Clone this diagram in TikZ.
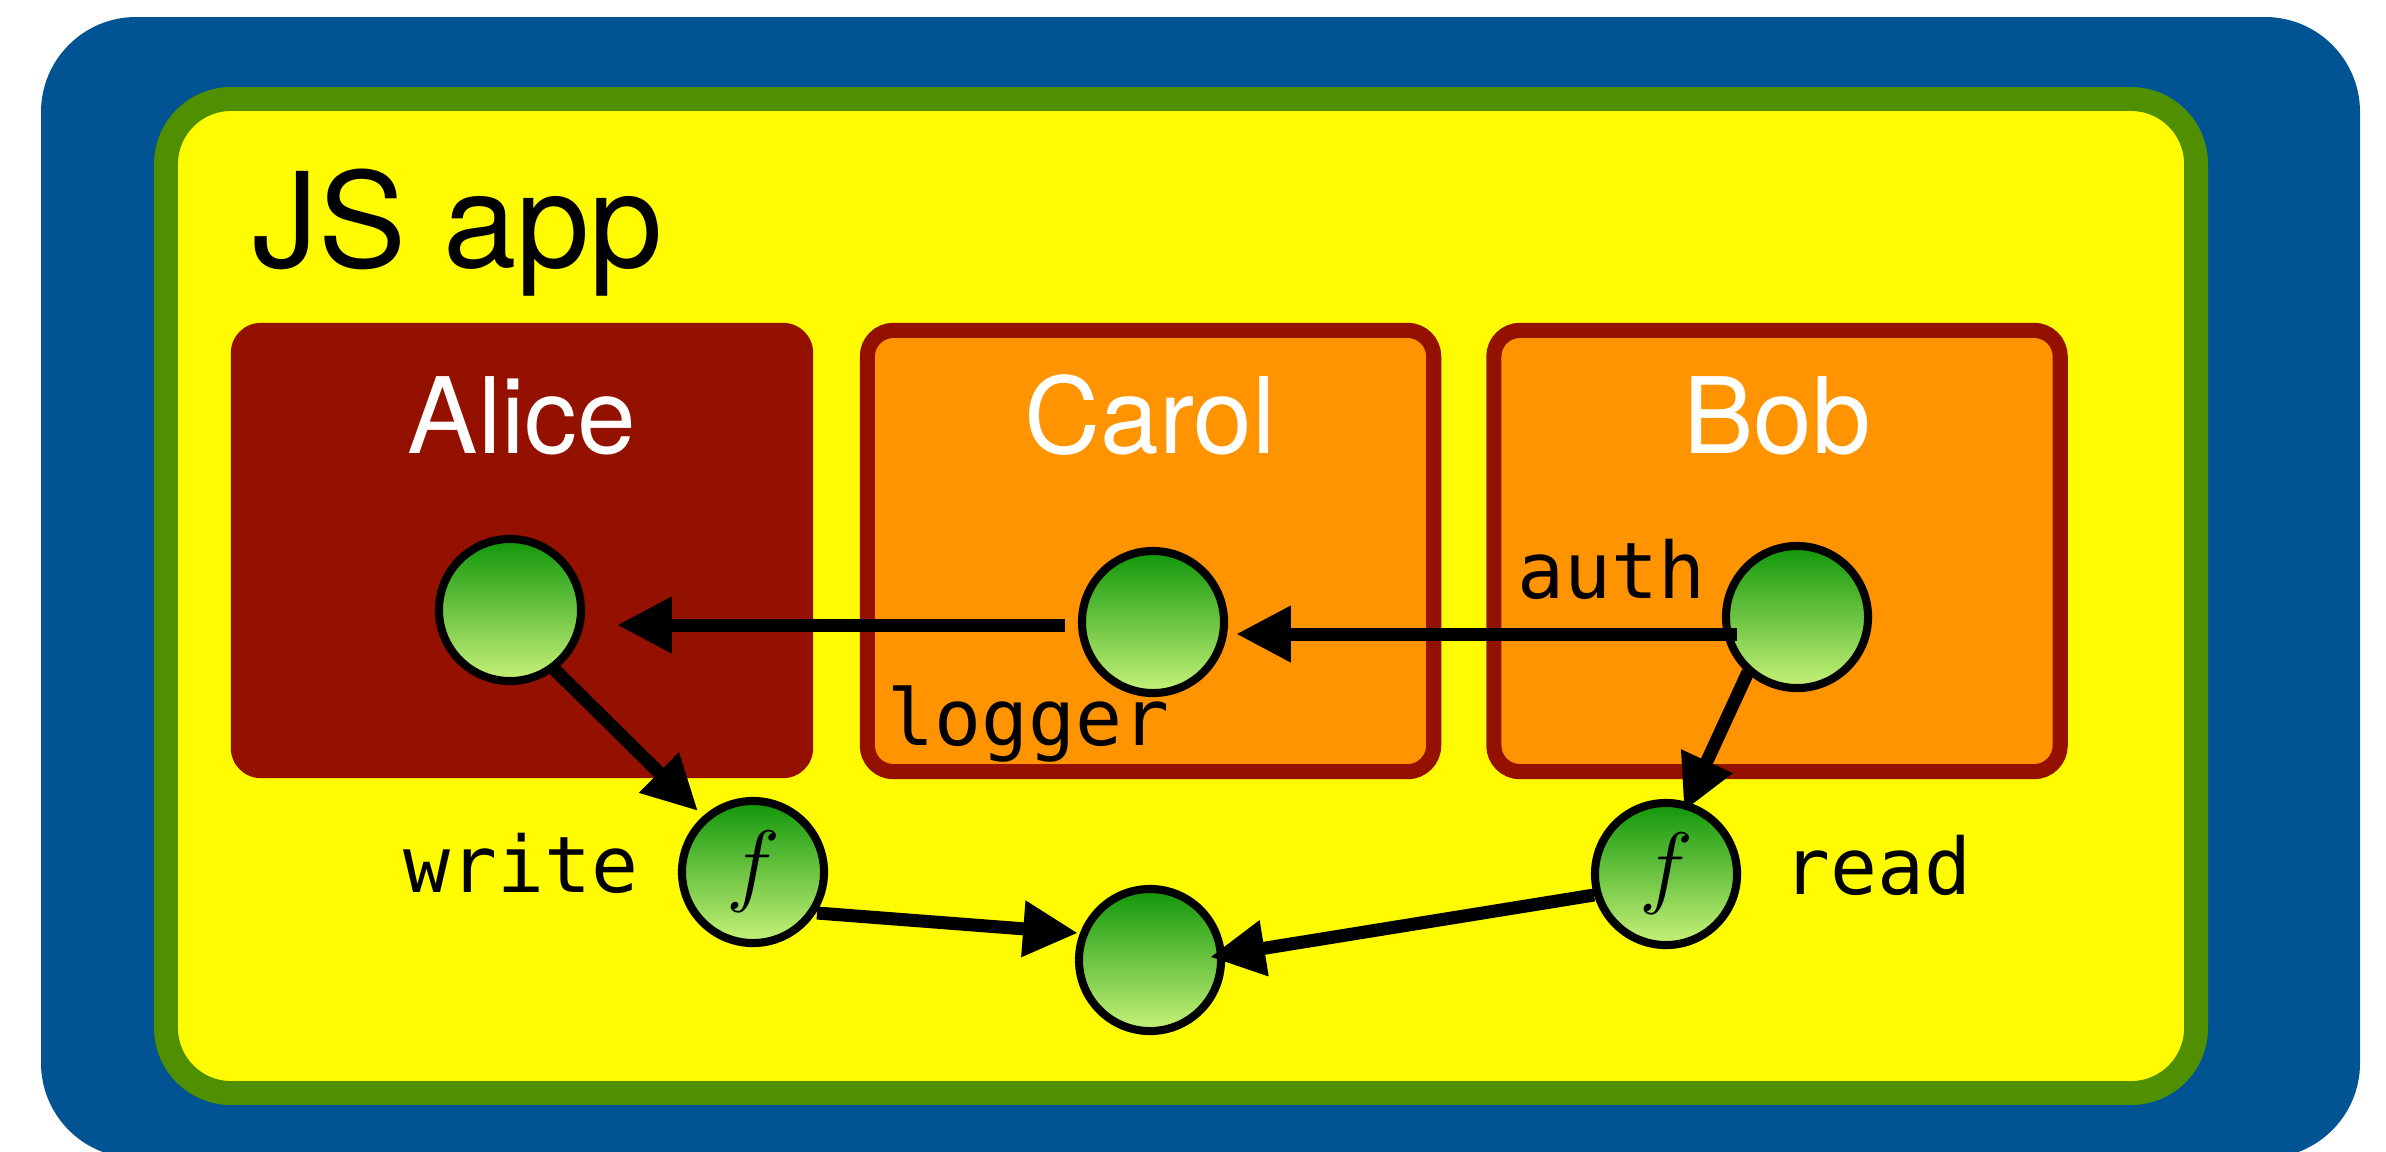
\RequirePackage{fix-cm}
\documentclass[tikz,border=0pt]{standalone}
\usepackage{fontspec}
\setmainfont{TeX Gyre Heros}
\setmonofont{DejaVu Sans Mono}
\usetikzlibrary{positioning,calc}
\usetikzlibrary{arrows.meta}

\definecolor{ocean}{RGB}{0,84,147}
\definecolor{moss}{RGB}{79,143,0}
\definecolor{lemon}{RGB}{255,251,0}
\definecolor{cayenne}{RGB}{148,17,0}
\definecolor{tangerine}{RGB}{255,147,0}
\definecolor{objtop}{RGB}{16,150,10}
\definecolor{objbottom}{RGB}{200,242,122}

\tikzstyle{vat} = [rectangle, rounded corners=0.3cm, minimum width=5.82cm, minimum height=4.55cm, fill=cayenne]
\tikzstyle{compartment} = [rectangle, rounded corners=0.26cm, minimum width=5.66cm, minimum height=4.41cm, fill=tangerine, draw=cayenne, line width=4.3pt]
\tikzstyle{boxname} = [anchor=base, inner sep=0pt, text=white, font=\fontsize{30}{36}\selectfont]
\tikzstyle{obj} = [circle, minimum size=1.42cm, inner sep=0pt, draw=black, line width=2.3pt, top color=objtop, bottom color=objbottom, font=\fontsize{26}{30}\selectfont]
\tikzstyle{varname} = [anchor=base, inner sep=0pt, font=\ttfamily\fontsize{22.2}{26}\selectfont]
\tikzstyle{arrow} = [line width=3.7pt, -{Triangle[length=15.6pt, width=15.1pt]}]

\begin{document}
\begin{tikzpicture}[x=0.01cm, y=-0.01cm]
				\useasboundingbox (0,0) rectangle (2386,1151);
				\clip (0,0) rectangle (2386,1151);
				\fill[ocean, rounded corners=0.95cm] (41,17) rectangle (2360,1158);
				\draw[moss, fill=lemon, line width=6.8pt, rounded corners=0.65cm] (166,99) rectangle (2196,1093);
				\node[anchor=base west, inner sep=0pt, font=\fontsize{37.5}{45}\selectfont] (app) at (252,267) {JS app};
				\node (alice) at (522,550.5) [vat] {};
				\node (carol) at (1150.5,551) [compartment] {};
				\node (bob) at (1777,551) [compartment] {};
				\node[boxname] (alicename) at (522,453) {Alice};
				\node[boxname] (carolname) at (1150,453) {Carol};
				\node[boxname] (bobname) at (1777,453) {Bob};
				\node (ao) at (510,610) [obj] {};
				\node (co) at (1153,622) [obj] {};
				\node (bo) at (1797,617) [obj] {};
				\node (wf) at (753,872) [obj] {$f$};
				\node (rf) at (1666,874) [obj] {$f$};
				\node (res) at (1150,960) [obj] {};
				\node[varname] (auth) at (1611,598) {auth};
				\node[varname] (logger) at (1028,745) {logger};
				\node[varname] (write) at (521,892) {write};
				\node[varname] (read) at (1877,894) {read};
				\draw[arrow] ([shift={(-88,3)}]co.center) -- ([shift={(107,15)}]ao.center);
				\draw[arrow] ([shift={(-60,17)}]bo.center) -- ([shift={(83,12)}]co.center);
				\draw[arrow] ([shift={(42,57)}]ao.center) -- ([shift={(-55,-61)}]wf.center);
				\draw[arrow] ([shift={(-49,55)}]bo.center) -- ([shift={(18,-63)}]rf.center);
				\draw[arrow] ([shift={(64,41)}]wf.center) -- ([shift={(-72,-27)}]res.center);
				\draw[arrow] ([shift={(-72,21)}]rf.center) -- ([shift={(60,-3)}]res.center);
\end{tikzpicture}
\end{document}
